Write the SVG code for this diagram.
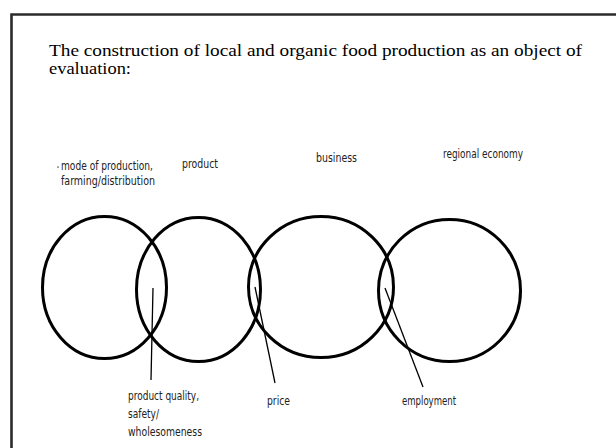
<svg xmlns="http://www.w3.org/2000/svg" width="616" height="448" viewBox="0 0 616 448">
  <style>
    .frame { fill: none; stroke: #2b2b2b; stroke-width: 2.6; }
    .title { font-family: "Liberation Serif", "Times New Roman", serif; font-size: 16px; fill: #000; }
    .lbl { font-family: "Liberation Sans Narrow", "DejaVu Sans Condensed", "Liberation Sans", sans-serif; font-size: 12px; fill: #222; }
    .ring { fill: none; stroke: #000; stroke-width: 3; }
    .lead { fill: none; stroke: #000; stroke-width: 1.3; }
  </style>
  <rect width="616" height="448" fill="#fff"/>

  <!-- open frame: left and top edges only -->
  <path class="frame" d="M11.5,450 V14.5 H620"/>

  <!-- two-line heading -->
  <text class="title"><tspan x="49" y="56" textLength="533" lengthAdjust="spacingAndGlyphs">The construction of local and organic food production as an object of</tspan><tspan x="49" y="74" textLength="82" lengthAdjust="spacingAndGlyphs">evaluation:</tspan></text>

  <!-- domains -->
  <g id="mode-of-production">
    <ellipse class="ring" cx="104.5" cy="287.5" rx="62" ry="71"/>
    <rect x="57" y="166.5" width="2" height="1.2" fill="#777"/>
    <text class="lbl"><tspan x="61" y="170" textLength="92" lengthAdjust="spacingAndGlyphs">mode of production,</tspan><tspan x="61" y="185" textLength="94" lengthAdjust="spacingAndGlyphs">farming/distribution</tspan></text>
  </g>
  <g id="product">
    <ellipse class="ring" cx="198.5" cy="289.5" rx="62" ry="72"/>
    <text class="lbl" x="182" y="167.5" textLength="36" lengthAdjust="spacingAndGlyphs">product</text>
  </g>
  <g id="business">
    <ellipse class="ring" cx="321" cy="287" rx="72.5" ry="70.5"/>
    <text class="lbl" x="316" y="161.5" textLength="41" lengthAdjust="spacingAndGlyphs">business</text>
  </g>
  <g id="regional-economy">
    <ellipse class="ring" cx="449.5" cy="290.5" rx="71" ry="71"/>
    <text class="lbl" x="443" y="158" textLength="80" lengthAdjust="spacingAndGlyphs">regional economy</text>
  </g>

  <!-- overlap callouts -->
  <g id="connectors">
    <line class="lead" x1="153" y1="288" x2="151" y2="380"/>
    <line class="lead" x1="255" y1="287" x2="275" y2="383"/>
    <line class="lead" x1="385" y1="288" x2="423" y2="387"/>
  </g>
  <g id="quality">
    <text class="lbl"><tspan x="128" y="400" textLength="71" lengthAdjust="spacingAndGlyphs">product quality,</tspan><tspan x="128" y="418" textLength="31" lengthAdjust="spacingAndGlyphs">safety/</tspan><tspan x="128" y="436" textLength="74" lengthAdjust="spacingAndGlyphs">wholesomeness</tspan></text>
  </g>
  <g id="price">
    <text class="lbl" x="267" y="405" textLength="23" lengthAdjust="spacingAndGlyphs">price</text>
  </g>
  <g id="employment">
    <text class="lbl" x="402" y="405" textLength="54" lengthAdjust="spacingAndGlyphs">employment</text>
  </g>
</svg>
